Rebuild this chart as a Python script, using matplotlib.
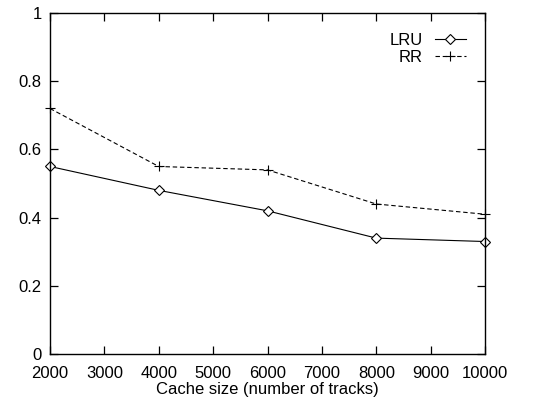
import matplotlib
matplotlib.use('Agg')
import matplotlib.pyplot as plt

plt.rcParams['font.family'] = ['Liberation Sans', 'DejaVu Sans']

cache_size = [2000, 4000, 6000, 8000, 10000]
lru = [0.55, 0.48, 0.42, 0.34, 0.33]
rr = [0.72, 0.55, 0.54, 0.44, 0.41]
x_ticks = [2000, 3000, 4000, 5000, 6000, 7000, 8000, 9000, 10000]
y_ticks = [0, 0.2, 0.4, 0.6, 0.8, 1]
y_labels = ['0', '0.2', '0.4', '0.6', '0.8', '1']

fig = plt.figure(figsize=(5.47, 4.01), dpi=100)
ax = fig.add_axes([0.0914, 0.117, 0.7953, 0.8506])

ax.plot(cache_size, lru, color='black', lw=0.8, marker='D', markersize=5,
        markerfacecolor='white', markeredgecolor='black', markeredgewidth=0.8,
        label='LRU', clip_on=False)
ax.plot(cache_size, rr, color='black', lw=0.8, dashes=(4, 2.5), marker='+',
        markersize=7, markeredgewidth=0.8, label='RR', clip_on=False)

ax.set_xlim(2000, 10000)
ax.set_ylim(0, 1)
ax.set_xticks(x_ticks)
ax.set_yticks(y_ticks)
ax.set_yticklabels(y_labels)
ax.tick_params(direction='in', length=6, width=0.9, top=True, right=True,
               labelsize=12)
ax.tick_params(axis='x', pad=8.5)
ax.tick_params(axis='y', pad=6)
for s in ax.spines.values():
    s.set_linewidth(1.0)

ax.set_xlabel('Cache size (number of tracks)', fontsize=12, labelpad=1)

ax.legend(loc='upper right', frameon=False, markerfirst=False, fontsize=12,
          handlelength=1.9, handletextpad=0.7, labelspacing=0.15,
          bbox_to_anchor=(0.972, 0.962), borderaxespad=0)

fig.savefig('out.png', dpi=100)
